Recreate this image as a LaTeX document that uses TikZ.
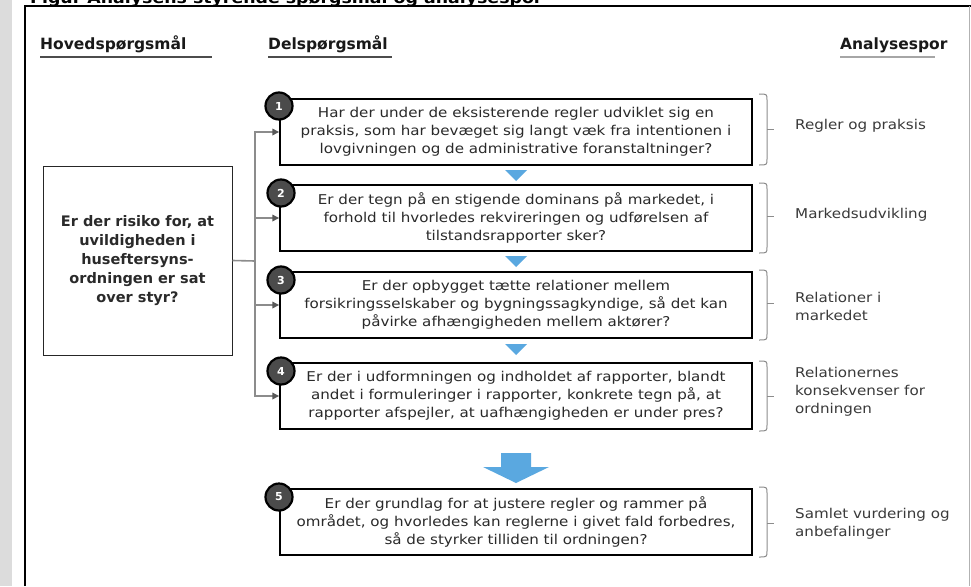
\documentclass[tikz,border=0pt]{standalone}
\usepackage{fontspec}
\setmainfont{DejaVu Sans}
\newfontfamily\boxfont[FakeStretch=1.12]{DejaVu Sans}
\usetikzlibrary{arrows.meta,calc}
\definecolor{stripgray}{HTML}{DCDCDC}
\definecolor{blueA}{HTML}{5AA8E0}
\definecolor{circfill}{HTML}{4B4B4B}
\definecolor{connGray}{HTML}{8C8C8C}
\definecolor{txtc}{HTML}{2A2A2A}
\definecolor{lblc}{HTML}{3A3A3A}
\begin{document}
\begin{tikzpicture}[x=1pt,y=-1pt,
  qbox/.style={draw=black, line width=1.4pt, minimum width=472pt, minimum height=66pt, align=center,
    font=\boxfont\fontsize{13.5}{18}\selectfont, text=txtc, inner sep=0pt},
  mainq/.style={draw=black!85, line width=1pt, minimum width=189pt, minimum height=189pt, align=center,
    font=\bfseries\fontsize{14.5}{18.8}\selectfont, text=txtc, inner sep=0pt},
  num/.style={circle, fill=circfill, draw=black, line width=2.2pt, minimum size=27pt, inner sep=0pt,
    text=white, font=\bfseries\fontsize{11}{11}\selectfont},
  conn/.style={draw=connGray, line width=1.6pt},
  connarr/.style={conn, -{Triangle[length=7pt,width=6.5pt,color=black!65]}},
  brk/.style={draw=black!45, line width=1pt},
  lbl/.style={anchor=west, align=left, font=\boxfont\fontsize{13.5}{18}\selectfont, text=lblc, inner sep=0pt},
  hdr/.style={anchor=base west, font=\bfseries\fontsize{15.5}{16}\selectfont, text=black!90, inner sep=0pt},
  tri/.style={fill=blueA}
]
\useasboundingbox (0,0) rectangle (971,586);
\clip (0,0) rectangle (971,586);
\fill[stripgray] (0,0) rectangle (12,586);
% title (cut off at top, as in the reference)
\node[anchor=base west, font=\boxfont\bfseries\fontsize{15.5}{15.5}\selectfont, text=black, inner sep=0pt] (title) at (30,4) {Figur Analysens styrende spørgsmål og analysespor};
\fill[white] (13,6) rectangle (971,586);
% frame
\draw[black, line width=1.5pt] (25,586) -- (25,6) -- (971,6);
\draw[black!30, line width=1pt] (969,6) -- (969,586);

% headers
\node[hdr] (h1) at (40,50) {Hovedspørgsmål};
\node[hdr] (h2) at (268,50) {Delspørgsmål};
\node[hdr] (h3) at (840,50) {Analysespor};
\draw[black!70, line width=1.5pt] (40,57) -- (212,57);
\draw[black!70, line width=1.5pt] (268,57) -- (392,57);
\draw[black!35, line width=1.8pt] (840,57) -- (935,57);

% main question
\node[mainq] (q) at (137.5,260.5) {Er der risiko for, at\\uvildigheden i\\huseftersyns-\\ordningen er sat\\over styr?};

% sub-question boxes
\node[qbox] (b1) at (516,132) {Har der under de eksisterende regler udviklet sig en\\praksis, som har bevæget sig langt væk fra intentionen i\\lovgivningen og de administrative foranstaltninger?};
\node[qbox] (b2) at (516,218) {Er der tegn på en stigende dominans på markedet, i\\forhold til hvorledes rekvireringen og udførelsen af\\tilstandsrapporter sker?};
\node[qbox] (b3) at (516,305) {Er der opbygget tætte relationer mellem\\forsikringsselskaber og bygningssagkyndige, så det kan\\påvirke afhængigheden mellem aktører?};
\node[qbox] (b4) at (516,396) {Er der i udformningen og indholdet af rapporter, blandt\\andet i formuleringer i rapporter, konkrete tegn på, at\\rapporter afspejler, at uafhængigheden er under pres?};
\node[qbox] (b5) at (516,522) {Er der grundlag for at justere regler og rammer på\\området, og hvorledes kan reglerne i givet fald forbedres,\\så de styrker tilliden til ordningen?};

% number circles
\node[num] (n1) at (279,106) {1};
\node[num] (n2) at (281,193) {2};
\node[num] (n3) at (281,280) {3};
\node[num] (n4) at (281,371) {4};
\node[num] (n5) at (279,497) {5};

% connectors
\coordinate (trunk) at (255,261);
\draw[conn] (q.east) -- (trunk);
\draw[connarr] (trunk) |- (b1.west);
\draw[connarr] (trunk) |- (b2.west);
\draw[connarr] (trunk) |- (b3.west);
\draw[connarr] (trunk) |- (b4.west);

% small blue triangles
\fill[tri] (505,170) -- (527,170) -- (516,181) -- cycle;
\fill[tri] (505,256) -- (527,256) -- (516,267) -- cycle;
\fill[tri] (505,344) -- (527,344) -- (516,355) -- cycle;
% big blue arrow
\fill[tri] (501,453) -- (531,453) -- (531,467) -- (549,467) -- (516,483) -- (483,467) -- (501,467) -- cycle;

% brackets
\draw[brk] (759,94) .. controls (767,94) .. (767,100) -- (767,159) .. controls (767,165) .. (759,165);
\draw[brk] (767,129.5) -- (774,129.5);
\draw[brk] (759,183) .. controls (767,183) .. (767,189) -- (767,247) .. controls (767,253) .. (759,253);
\draw[brk] (767,216) -- (774,216);
\draw[brk] (759,270) .. controls (767,270) .. (767,276) -- (767,334) .. controls (767,340) .. (759,340);
\draw[brk] (767,303) -- (774,303);
\draw[brk] (759,361) .. controls (767,361) .. (767,367) -- (767,425) .. controls (767,431) .. (759,431);
\draw[brk] (767,396) -- (774,396);
\draw[brk] (759,487) .. controls (767,487) .. (767,493) -- (767,551) .. controls (767,557) .. (759,557);
\draw[brk] (767,523) -- (774,523);

% analysis labels
\node[lbl] (a1) at (795,126) {Regler og praksis};
\node[lbl] (a2) at (795,215) {Markedsudvikling};
\node[lbl] (a3) at (795,306) {Relationer i\\markedet};
\node[lbl] (a4) at (795,392) {Relationernes\\konsekvenser for\\ordningen};
\node[lbl] (a5) at (795,524) {Samlet vurdering og\\anbefalinger};
\end{tikzpicture}
\end{document}
